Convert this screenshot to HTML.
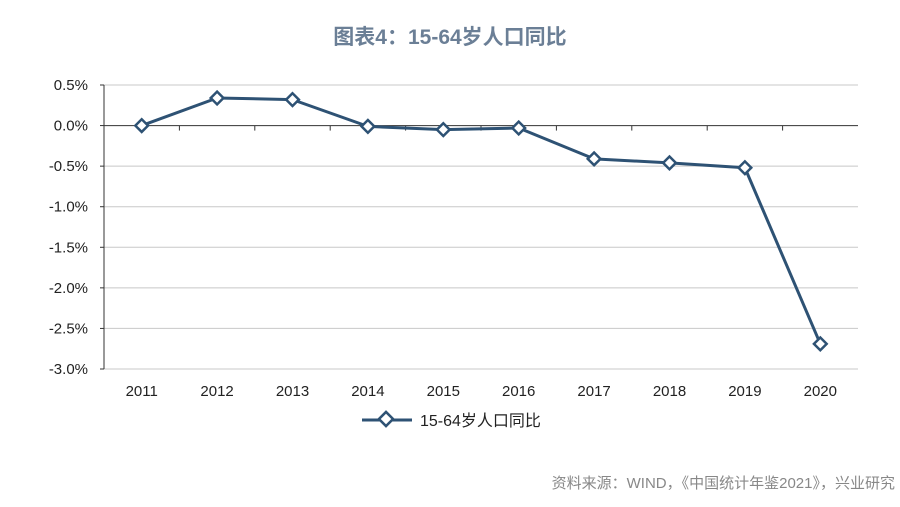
<!DOCTYPE html>
<html><head><meta charset="utf-8"><style>
body{margin:0;background:#fff;width:900px;height:502px;overflow:hidden;font-family:"Liberation Sans","Noto Sans CJK SC",sans-serif}
</style></head><body>
<svg width="900" height="502" xmlns="http://www.w3.org/2000/svg" font-family="Liberation Sans, Noto Sans CJK SC, sans-serif">
<text x="450" y="44" text-anchor="middle" font-size="21" font-weight="bold" fill="#6b7f96">图表4：15-64岁人口同比</text>
<g id="grid"></g><g id="axes"></g><g id="series"></g>
<g>
<line x1="362" y1="420" x2="412" y2="420" stroke="#2e5274" stroke-width="3"/>
<rect x="381" y="414" width="10" height="10" transform="rotate(45 386 419)" fill="#fff" stroke="#2e5274" stroke-width="2.5"/>
<text x="420" y="426" font-size="16" fill="#222">15-64岁人口同比</text>
</g>
<text x="895" y="488" text-anchor="end" font-size="15" fill="#888">资料来源：WIND，《中国统计年鉴2021》，兴业研究</text>
</svg>
<script>
const categories=["2011","2012","2013","2014","2015","2016","2017","2018","2019","2020"];
const values=[0.0,0.34,0.32,-0.01,-0.05,-0.03,-0.41,-0.46,-0.52,-2.69];
const yTicks=[0.5,0,-0.5,-1,-1.5,-2,-2.5,-3];
const yTickLabels=["0.5%","0.0%","-0.5%","-1.0%","-1.5%","-2.0%","-2.5%","-3.0%"];
const NS="http://www.w3.org/2000/svg";
const L=104,R=858,T=85,B=369;
const y=v=>T+(0.5-v)/3.5*(B-T);
const step=(R-L)/categories.length;
const x=i=>L+step*(i+0.5);
function mk(t,a,p){const e=document.createElementNS(NS,t);for(const k in a)e.setAttribute(k,a[k]);p.appendChild(e);return e;}
const g=document.getElementById('grid'),ax=document.getElementById('axes'),s=document.getElementById('series');
yTicks.forEach((v,i)=>{
 const l=mk('line',{x1:L,x2:R,y1:y(v),y2:y(v),stroke:v===0?'#333':'#c8c8c8','stroke-width':1},g);
 
 
 const t=mk('text',{x:88,y:y(v)+5,'text-anchor':'end','font-size':15,fill:'#222'},ax);t.textContent=yTickLabels[i];
 
 
 mk('line',{x1:L-4,x2:L,y1:y(v),y2:y(v),stroke:'#333'},ax);
});
const ya=mk('line',{x1:L,x2:L,y1:T,y2:B,stroke:'#333'},ax);


categories.forEach((c,i)=>{
 const t=mk('text',{x:x(i),y:396,'text-anchor':'middle','font-size':15,fill:'#222'},ax);t.textContent=c;
 
 
 if(i>0)mk('line',{x1:L+step*i,x2:L+step*i,y1:y(0),y2:y(0)+5,stroke:'#333'},ax);
});
const pl=mk('polyline',{points:values.map((v,i)=>x(i)+','+y(v)).join(' '),fill:'none',stroke:'#2e5274','stroke-width':3,'stroke-linejoin':'round'},s);


values.forEach((v,i)=>{
 const m=mk('rect',{x:x(i)-4.5,y:y(v)-4.5,width:9,height:9,transform:`rotate(45 ${x(i)} ${y(v)})`,fill:'#fff',stroke:'#2e5274','stroke-width':2.5},s);
 
 
});
</script>
</body></html>
